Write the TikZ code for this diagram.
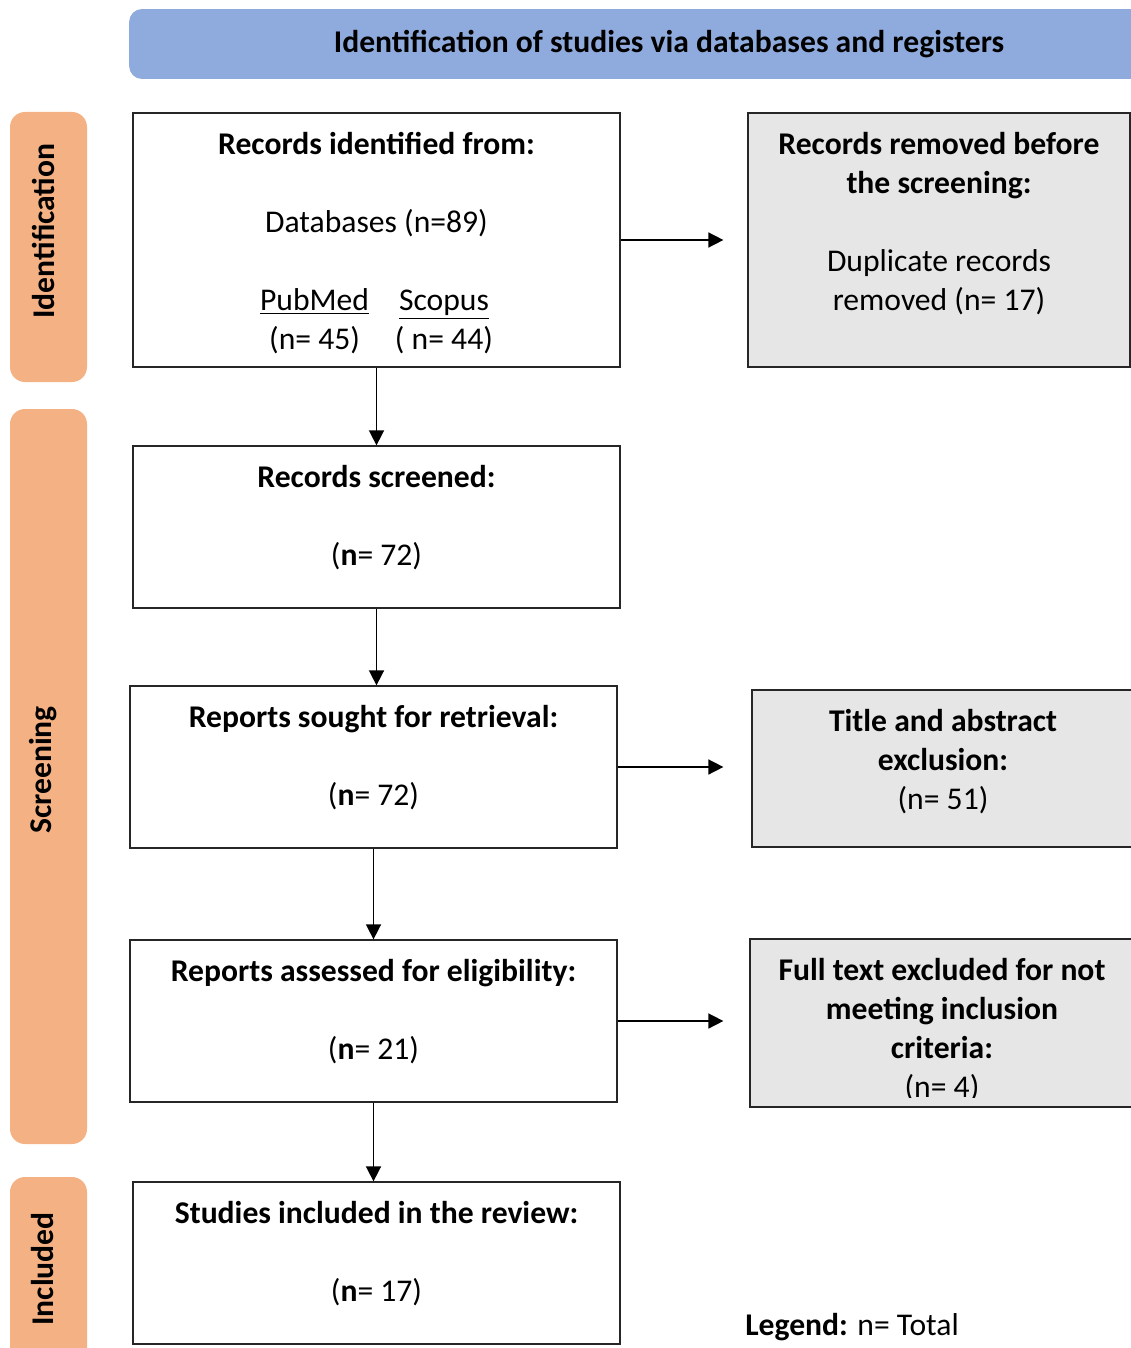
\documentclass[tikz,border=0pt]{standalone}
\usepackage{fontspec}
\setmainfont{Carlito}
\usetikzlibrary{arrows.meta, positioning}
\definecolor{prsblue}{RGB}{143, 170, 220}
\definecolor{prsorange}{RGB}{244, 177, 131}
\definecolor{prsgray}{RGB}{231, 230, 230}

\begin{document}
\begin{tikzpicture}[
    x=0.02cm, y=-0.02cm,
    >={Triangle[length=0.3cm, width=0.3cm]},
    every node/.style={font=\fontsize{18}{22.2}\selectfont},
    flow box/.style={draw=black!85, line width=0.75pt, fill=white,
        minimum width=9.74cm, minimum height=3.24cm, inner sep=0pt},
    excl box/.style={flow box, fill=prsgray, minimum width=7.64cm},
    box text/.style={align=center, inner sep=0pt},
    phase label/.style={rotate=90, inner sep=0pt,
        font=\fontsize{18}{22.2}\selectfont\bfseries},
    flow/.style={->, line width=0.9pt}
]

\useasboundingbox (0,0) rectangle (1131,1348);
\clip (0,0) rectangle (1131,1348);

% =============================================
% HEADER and phase bars
% =============================================

\node[fill=prsblue, rounded corners=0.26cm, minimum width=21.6cm,
    minimum height=1.4cm, inner sep=0pt,
    font=\fontsize{18}{22.2}\selectfont\bfseries] (head) at (669, 44)
    {Identification of studies via databases and registers};

\fill[prsorange, rounded corners=0.3cm] (10, 112) rectangle (87, 382);
\fill[prsorange, rounded corners=0.3cm] (10, 409) rectangle (87, 1144);
\fill[prsorange, rounded corners=0.3cm] (10, 1177) rectangle (87, 1420);

\node[phase label] (identL) at (43, 231) {Identification};
\node[phase label] (screenL) at (43, 770) {Screening};
\node[phase label] (inclL) at (43, 1269) {Included};

% =============================================
% MAIN COLUMN
% =============================================

% Records identified
\node[flow box, minimum height=5.08cm] (rec) at (376.5, 240) {};
\node[box text, below=0.4cm of rec.north] (recT)
    {\textbf{Records identified from:}\\[0.78cm]
     Databases (n=89)\\[0.78cm]
     \begin{tabular}[t]{@{}c@{\hspace{0.52cm}}c@{}}
     \underline{PubMed} & \underline{Scopus}\\
     (n= 45) & ( n= 44)
     \end{tabular}};

% Records screened
\node[flow box] (scr) at (376.5, 527) {};
\node[box text, below=0.4cm of scr.north] (scrT)
    {\textbf{Records screened:}\\[0.78cm] (\textbf{n}= 72)};

% Reports sought
\node[flow box] (sou) at (373.5, 767) {};
\node[box text, below=0.4cm of sou.north] (souT)
    {\textbf{Reports sought for retrieval:}\\[0.78cm] (\textbf{n}= 72)};

% Reports assessed
\node[flow box] (ass) at (373.5, 1021) {};
\node[box text, below=0.4cm of ass.north] (assT)
    {\textbf{Reports assessed for eligibility:}\\[0.78cm] (\textbf{n}= 21)};

% Studies included
\node[flow box] (inc) at (376.5, 1263) {};
\node[box text, below=0.4cm of inc.north] (incT)
    {\textbf{Studies included in the review:}\\[0.78cm] (\textbf{n}= 17)};

% =============================================
% EXCLUSION COLUMN
% =============================================

% Removed before screening
\node[excl box, minimum height=5.08cm] (rem) at (939, 240) {};
\node[box text, below=0.4cm of rem.north] (remT)
    {\textbf{Records removed before}\\ \textbf{the screening:}\\[0.78cm]
     Duplicate records\\ removed (n= 17)};

% Title and abstract exclusion
\node[excl box, minimum height=3.14cm] (tit) at (943, 768.5) {};
\node[box text, below=0.4cm of tit.north] (titT)
    {\textbf{Title and abstract}\\ \textbf{exclusion:}\\ (n= 51)};

% Full text exclusion (last line cut by the box)
\node[excl box, minimum width=7.68cm, minimum height=3.36cm] (ful) at (942, 1023) {};
\begin{scope}
    \clip (ful.north west) rectangle ([yshift=0.2cm]ful.south east);
    \node[box text, below=0.4cm of ful.north] (fulT)
        {\textbf{Full text excluded for not}\\ \textbf{meeting inclusion}\\
         \textbf{criteria:}\\ (n= 4)};
\end{scope}

% =============================================
% CONNECTORS
% =============================================

\draw[flow] (rec.south) -- (rec.south |- scr.north);
\draw[flow] (scr.south) -- (scr.south |- sou.north);
\draw[flow] (sou.south) -- (sou.south |- ass.north);
\draw[flow] (ass.south) -- (ass.south |- inc.north);

\draw[flow, shorten >=0.48cm] (rec.east) -- (rec.east -| rem.west);
\draw[flow, shorten >=0.56cm] (sou.east) -- (sou.east -| tit.west);
\draw[flow, shorten >=0.52cm] (ass.east) -- (ass.east -| ful.west);

% Legend
\node[anchor=west, inner sep=0pt] (legend) at (745, 1327)
    {\textbf{Legend:} n= Total};

\end{tikzpicture}
\end{document}
